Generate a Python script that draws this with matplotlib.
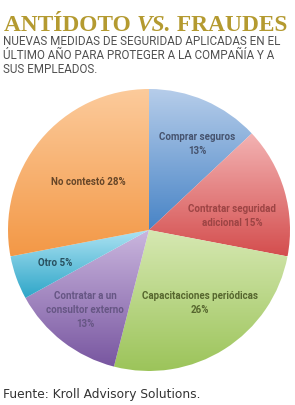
import numpy as np
import matplotlib
matplotlib.use("Agg")
from matplotlib import pyplot
from matplotlib.colors import LinearSegmentedColormap

labels = ["Comprar seguros\n13%", "Contratar seguridad\nadicional 15%",
          "Capacitaciones periódicas\n26%", "Contratar a un\nconsultor externo\n13%",
          "Otro 5%", "No contestó 28%"]
shares = [13, 15, 26, 13, 5, 28]
top_colors = ["#b6cdea", "#f3b3b3", "#d6e8b2", "#cab6de", "#ace2f2", "#fccb9c"]
bottom_colors = ["#4884c6", "#d44e4e", "#9cc45a", "#7856a0", "#2ea6c8", "#f39846"]
text_colors = ["#46536e", "#9c4444", "#56662e", "#665684", "#284f5e", "#664628"]
label_pos = [(197, 144), (232, 216), (200, 303), (85, 310), (55, 263), (88, 182)]
subtitle = ["NUEVAS MEDIDAS DE SEGURIDAD APLICADAS EN EL",
            "ÚLTIMO AÑO PARA PROTEGER A LA COMPAÑÍA Y A",
            "SUS EMPLEADOS."]

W, H = 295, 406
fig = pyplot.figure(figsize=(W / 100, H / 100), dpi=100)
renderer = fig.canvas.get_renderer()

cx, cy, r = 149, 231, 141
ax = fig.add_axes([(cx - r) / W, 1 - (cy + r) / H, 2 * r / W, 2 * r / H])
wedges, _ = ax.pie(shares, startangle=90, counterclock=False, radius=1,
                   wedgeprops=dict(linewidth=0))
ax.set_xlim(-1, 1)
ax.set_ylim(-1, 1)
ax.set_aspect("equal")
ax.axis("off")

# vertical gradient per slice, light on top
for w, c0, c1 in zip(wedges, top_colors, bottom_colors):
    th = np.radians(np.linspace(w.theta1, w.theta2, 200))
    ys = np.concatenate([np.sin(th), [0]])
    xs = np.concatenate([np.cos(th), [0]])
    cmap = LinearSegmentedColormap.from_list("g", [c1, c0])
    grad = np.linspace(0, 1, 256).reshape(-1, 1)
    im = ax.imshow(grad, cmap=cmap, origin="lower", aspect="auto",
                   extent=[xs.min(), xs.max(), ys.min(), ys.max()], zorder=2)
    im.set_clip_path(w)
    w.set_alpha(0)

for lab, (x, y), col in zip(labels, label_pos, text_colors):
    fig.text(x / W, 1 - y / H, lab, ha="center", va="center", color=col,
             fontsize=7, fontweight="bold", linespacing=1.45, family="Roboto")

# title in three pieces, fitted to 283 px
gold = "#b49a30"
parts = [("ANTÍDOTO ", "normal"), ("VS.", "italic"), (" FRAUDES", "normal")]
size = 22
total = 0
for part, style in parts:
    t = fig.text(0, 0, part, fontsize=size, fontweight="bold", style=style,
                 family="Liberation Serif")
    total += t.get_window_extent(renderer).width
    t.remove()
size = size * 283 / total
x0 = 4
for part, style in parts:
    t = fig.text(x0 / W, 1 - 31 / H, part, fontsize=size, fontweight="bold", style=style,
                 color=gold, family="Liberation Serif", va="baseline")
    x0 += t.get_window_extent(renderer).width

for i, line in enumerate(subtitle):
    fig.text(3 / W, 1 - (45 + 14 * i) / H, line, fontsize=8.4, color="#505050",
             va="baseline", family="Roboto")

fig.text(3 / W, 1 - 398 / H, "Fuente: Kroll Advisory Solutions.", fontsize=8.8,
         color="#333333", va="baseline", family="DejaVu Sans")

fig.savefig("out.png", dpi=100)
